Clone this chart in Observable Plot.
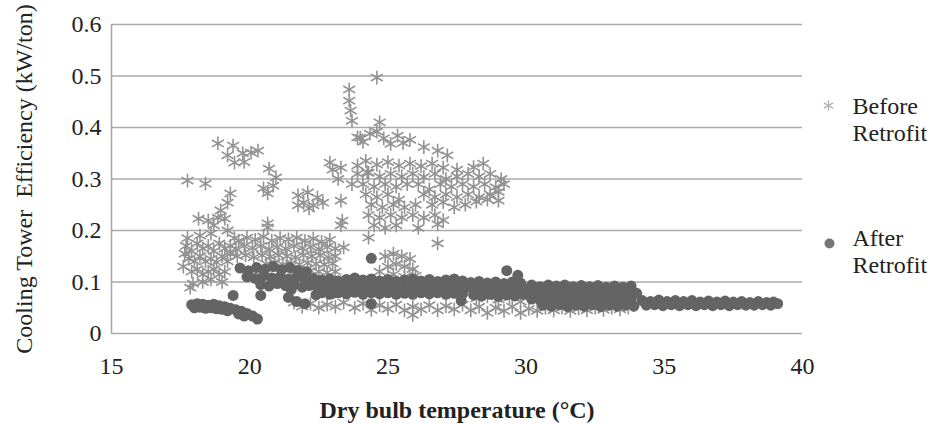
<!DOCTYPE html>
<html>
<head>
<meta charset="utf-8">
<script src="https://cdn.jsdelivr.net/npm/d3@7"></script>
<script src="https://cdn.jsdelivr.net/npm/@observablehq/plot@0.6"></script>
<style>
  html, body { margin: 0; padding: 0; background: #fff; }
</style>
</head>
<body>
<div id="chart"></div>
<script>
// ---- Tick values and labels ----
const xTicks = [15, 20, 25, 30, 35, 40];
const yTicks = [0, 0.1, 0.2, 0.3, 0.4, 0.5, 0.6];
const xTitle = "Dry bulb temperature (°C)";
const yTitle = "Cooling Tower\u00a0 Efficiency (kW/ton)";
const seriesNames = ["Before\nRetrofit", "After\nRetrofit"];

// ---- Before Retrofit: [dry bulb °C, kW/ton] ----
const beforeHigh = [
  [24.6,0.497],[23.6,0.474],[23.6,0.452],[23.65,0.433],[23.7,0.413],[24.7,0.410],[24.6,0.392],
  [18.85,0.369],[19.4,0.365],[19.2,0.346],[19.75,0.35],[20.05,0.351],[20.3,0.355],[19.45,0.332],[19.8,0.333],
  [23.9,0.381],[24.35,0.388],[24.85,0.379],[25.35,0.384],[25.8,0.376],[26.3,0.362],[26.8,0.355],[27.15,0.346],
  [24.1,0.372],[25.1,0.368],[25.55,0.37],[24.0,0.38]
];
const beforeUpper = [
  [20.7,0.32],[20.95,0.303],[20.85,0.287],[20.65,0.272],[20.5,0.282],
  [17.75,0.297],[18.4,0.291],
  [19.3,0.272],[19.2,0.254],[18.95,0.239],[18.85,0.225],[18.5,0.219],[18.15,0.223],[18.7,0.21],[19.1,0.223],
  [21.75,0.268],[22.1,0.274],[22.45,0.264],[21.95,0.254],[22.3,0.249],[22.65,0.254],[21.75,0.249],[22.15,0.243],
  [23.3,0.258],[23.35,0.219],[20.65,0.214],
  [22.9,0.332],[23.3,0.322],[23.9,0.326],[24.25,0.313],[23.0,0.318],[23.2,0.30],
  [24.2,0.335],[24.6,0.328],[25.0,0.333],[25.4,0.326],[25.8,0.33],[26.2,0.325],[26.6,0.33],[27.0,0.322],[27.5,0.318],[28.45,0.33],[28.1,0.323],
  [23.9,0.31],[24.3,0.312],[24.7,0.305],[25.1,0.31],[25.5,0.305],[25.9,0.31],[26.3,0.304],[26.7,0.31],[27.1,0.30],[27.5,0.305],[27.9,0.31],[28.3,0.305],[28.7,0.31],[29.1,0.30],
  [23.7,0.29],[24.1,0.29],[24.5,0.285],[24.9,0.29],[25.3,0.285],[25.7,0.29],[26.1,0.29],[26.5,0.28],[26.9,0.29],[27.3,0.285],[27.7,0.29],[28.1,0.285],[28.5,0.29],[28.9,0.284],[29.2,0.29],
  [26.3,0.27],[26.7,0.265],[27.1,0.27],[27.5,0.265],[27.9,0.27],[28.3,0.265],[28.7,0.27],[29.0,0.275],
  [26.6,0.25],[27.0,0.255],[27.4,0.245],[27.8,0.25],[28.2,0.256],[28.6,0.26],[29.0,0.258],
  [24.2,0.27],[24.6,0.265],[25.0,0.27],[25.4,0.26],[24.4,0.25],[24.8,0.245],[25.2,0.25],[25.6,0.245],[26.0,0.25],
  [24.3,0.23],[24.7,0.225],[25.1,0.23],[25.5,0.225],[25.9,0.23],[26.3,0.225],[26.7,0.23],[27.0,0.22],
  [24.5,0.21],[24.9,0.205],[25.3,0.21],[26.1,0.205],[26.8,0.212]
];
const beforeSparse = [
  [24.3,0.186],[26.8,0.175],[23.4,0.167],[23.3,0.21],[20.65,0.206],[18.6,0.194],[18.2,0.19],[19.2,0.2],[17.75,0.185]
];
const beforeLeft = [
  [17.7,0.17],[17.9,0.16],[18.1,0.175],[18.3,0.165],[18.5,0.17],[18.7,0.16],[18.9,0.175],[19.1,0.165],[19.3,0.17],
  [17.8,0.145],[18.0,0.14],[18.2,0.15],[18.4,0.14],[18.6,0.145],[18.8,0.138],[19.0,0.15],[19.2,0.14],
  [17.9,0.12],[18.1,0.125],[18.3,0.115],[18.5,0.12],[18.7,0.125],[18.9,0.115],[19.1,0.12],
  [17.95,0.097],[18.3,0.1],[18.6,0.105],[19.0,0.1],[17.85,0.089],[17.65,0.155],[17.6,0.13]
];
const beforeBlob = [
  [19.6,0.18],[19.9,0.186],[20.2,0.182],[20.5,0.188],[20.8,0.18],[21.1,0.185],[21.4,0.183],[21.7,0.186],[22.0,0.18],[22.3,0.184],[22.6,0.178],[22.9,0.182],
  [19.5,0.165],[19.8,0.17],[20.1,0.166],[20.4,0.17],[20.7,0.164],[21.0,0.168],[21.3,0.165],[21.6,0.17],[21.9,0.166],[22.2,0.168],[22.5,0.164],[22.8,0.168],[23.1,0.165],
  [19.55,0.15],[19.85,0.152],[20.15,0.148],[20.45,0.152],[20.75,0.149],[21.05,0.152],[21.35,0.15],[21.65,0.148],[21.95,0.152],[22.25,0.15],[22.55,0.152],[22.85,0.148],[23.1,0.15],
  [20.6,0.135],[20.9,0.138],[21.2,0.134],[21.5,0.136],[21.8,0.134],[22.1,0.137],[22.4,0.135],[22.7,0.134],[23.0,0.136],
  [21.6,0.12],[21.9,0.118],[22.2,0.122],[22.5,0.12],[22.8,0.118],[23.1,0.12],
  [19.3,0.155],[19.45,0.185],
  [24.9,0.15],[25.2,0.155],[25.5,0.15],[25.8,0.145],[25.0,0.13],[25.3,0.135],[25.6,0.13],[25.9,0.125],[25.2,0.115],[25.6,0.11],[24.7,0.12],[26.0,0.112]
];
const beforeLow = [
  [21.6,0.06],[21.9,0.052],[22.2,0.058],[22.5,0.05],[22.8,0.056],[23.1,0.052],[23.4,0.06],
  [23.8,0.05],[24.1,0.058],[24.4,0.046],[24.7,0.055],[25.0,0.048],[25.3,0.056],[25.6,0.045],[25.9,0.052],[26.2,0.047],
  [26.5,0.055],[26.8,0.045],[27.1,0.053],[27.4,0.047],[27.7,0.056],[28.0,0.045],[28.3,0.052],[28.6,0.04],[28.9,0.05],
  [29.2,0.044],[29.5,0.052],[29.8,0.04],[30.1,0.048],[30.4,0.044],[30.7,0.05],[31.0,0.045],[31.3,0.05],[31.6,0.044],
  [31.9,0.049],[32.2,0.045],[32.5,0.05],[32.8,0.046],[33.1,0.05],[33.4,0.047],[33.7,0.05],
  [25.9,0.036],[28.2,0.068],[28.6,0.072],[29.0,0.066],[29.4,0.07],[29.8,0.062]
];

// ---- After Retrofit: [dry bulb °C, kW/ton] ----
const afterLow = [
  [17.9,0.056],[18.1,0.058],[18.3,0.057],[18.5,0.055],[18.7,0.057],[18.9,0.054],[19.1,0.052],[19.3,0.049],[19.5,0.046],
  [19.7,0.043],[19.9,0.039],[20.1,0.034],[20.28,0.028],[18.0,0.05],[18.2,0.051],[18.4,0.049],[18.6,0.05],[18.8,0.048],
  [19.0,0.047],[19.2,0.044],[19.6,0.038],[19.8,0.034],[19.4,0.074],[20.4,0.074]
];
const afterBand = [
  [19.65,0.127],[19.95,0.122],[20.25,0.128],[20.55,0.125],[20.85,0.13],[21.15,0.124],[21.45,0.128],[21.75,0.122],[22.05,0.12],
  [19.9,0.11],[20.2,0.107],[20.5,0.112],[20.8,0.108],[21.1,0.11],[21.4,0.106],[21.7,0.11],[22.0,0.105],
  [20.4,0.095],[20.7,0.092],[21.0,0.097],[21.3,0.093],[21.6,0.095],[21.9,0.09],
  [21.4,0.07],[21.7,0.062],[22.0,0.058],[21.5,0.085],[22.4,0.075],[23.0,0.078],
  [22.3,0.107],[22.6,0.104],[22.9,0.106],[23.2,0.102],[23.5,0.105],[23.8,0.108],[24.1,0.104],[24.4,0.106],[24.7,0.102],
  [25.0,0.105],[25.3,0.101],[25.6,0.104],[25.9,0.106],[26.2,0.102],[26.5,0.105],[26.8,0.101],[27.1,0.104],[27.4,0.106],[27.7,0.102],
  [22.15,0.093],[22.45,0.09],[22.75,0.094],[23.05,0.089],[23.35,0.092],[23.65,0.09],[23.95,0.093],[24.25,0.089],[24.55,0.092],
  [24.85,0.089],[25.15,0.092],[25.45,0.089],[25.75,0.092],[26.05,0.089],[26.35,0.092],[26.65,0.089],[26.95,0.092],[27.25,0.089],[27.55,0.092],[27.85,0.09],
  [22.6,0.079],[22.9,0.076],[23.2,0.079],[23.5,0.077],[23.8,0.08],[24.1,0.076],[24.4,0.079],[24.7,0.077],[25.0,0.079],
  [25.3,0.076],[25.6,0.078],[25.9,0.076],[26.2,0.079],[26.5,0.077],[26.8,0.079],[27.1,0.076],[27.4,0.078],[27.7,0.077],
  [24.4,0.146],[27.65,0.064],[24.4,0.058],
  [28.0,0.099],[28.3,0.101],[28.6,0.098],[28.9,0.1],[29.2,0.097],[29.5,0.1],[29.8,0.098],
  [28.15,0.087],[28.45,0.085],[28.75,0.088],[29.05,0.085],[29.35,0.087],[29.65,0.084],[29.95,0.087],
  [28.1,0.075],[28.4,0.073],[28.7,0.076],[29.0,0.072],[29.3,0.075],[29.6,0.073],[29.9,0.076],
  [29.3,0.122],[29.7,0.113],
  [30.2,0.094],[30.5,0.091],[30.8,0.094],[31.1,0.092],[31.4,0.094],[31.7,0.091],[32.0,0.093],[32.3,0.091],[32.6,0.093],[32.9,0.09],[33.2,0.092],[33.5,0.09],[33.8,0.092],
  [30.1,0.08],[30.4,0.078],[30.7,0.081],[31.0,0.078],[31.3,0.08],[31.6,0.078],[31.9,0.081],[32.2,0.078],[32.5,0.08],[32.8,0.078],[33.1,0.081],[33.4,0.078],[33.7,0.08],[34.0,0.078],
  [30.2,0.067],[30.5,0.065],[30.8,0.068],[31.1,0.064],[31.4,0.067],[31.7,0.065],[32.0,0.068],[32.3,0.064],[32.6,0.067],[32.9,0.065],[33.2,0.068],[33.5,0.064],[33.8,0.066],
  [30.6,0.055],[30.9,0.053],[31.2,0.056],[31.5,0.052],[31.8,0.055],[32.1,0.053],[32.4,0.056],[32.7,0.052],[33.0,0.055],[33.3,0.053],[33.6,0.055],[33.9,0.053],
  [34.2,0.064],[34.5,0.062],[34.8,0.065],[35.1,0.062],[35.4,0.064],[35.7,0.062],[36.0,0.064],[36.3,0.061],[36.6,0.063],
  [36.9,0.061],[37.2,0.063],[37.5,0.061],[37.8,0.062],[38.1,0.06],[38.4,0.062],[38.7,0.06],[38.95,0.061],
  [34.35,0.055],[34.65,0.056],[34.95,0.054],[35.25,0.056],[35.55,0.054],[35.85,0.056],[36.15,0.054],[36.45,0.056],
  [36.75,0.054],[37.05,0.056],[37.35,0.054],[37.65,0.056],[37.95,0.055],[38.25,0.055],[38.55,0.056],[38.85,0.055],[39.1,0.058]
];

const toRows = arr => arr.map(([t, e]) => ({t, e}));
const before = toRows([...beforeHigh, ...beforeUpper, ...beforeSparse, ...beforeLeft, ...beforeBlob, ...beforeLow]);
const after = toRows([...afterLow, ...afterBand]);

const font = "'Liberation Serif', 'Times New Roman', serif";
const gridColor = "#aaaaaa";
const beforeColor = "#929292";
const afterColor = "#646464";

const chart = Plot.plot({
  width: 938,
  height: 425,
  marginLeft: 111,
  marginRight: 136,
  marginTop: 24,
  marginBottom: 92,
  style: {fontFamily: font, fontSize: "24px", color: "#222", background: "#fff", overflow: "visible"},
  x: {domain: [15, 40]},
  y: {domain: [0, 0.6]},
  marks: [
    Plot.ruleY(yTicks, {stroke: gridColor, strokeWidth: 1.6}),
    Plot.ruleX([15], {stroke: gridColor, strokeWidth: 1.6}),
    Plot.axisY({ticks: yTicks, tickSize: 0, tickPadding: 10, label: null, fontSize: 24,
      tickFormat: d => d === 0 ? "0" : d.toFixed(1)}),
    Plot.axisX({ticks: xTicks, tickSize: 0, tickPadding: 23, label: null, fontSize: 24,
      tickFormat: d => String(d)}),
    Plot.dot(before, {x: "t", y: "e", symbol: "asterisk", r: 6.5, stroke: beforeColor, strokeWidth: 1.6}),
    Plot.dot(after, {x: "t", y: "e", symbol: "circle", r: 5.5, fill: afterColor, stroke: "none"}),
    Plot.text([xTitle], {frameAnchor: "bottom", dy: 77, fontWeight: "bold", fontSize: 24, fill: "#222",
      textAnchor: "middle", lineAnchor: "middle"}),
    Plot.text([yTitle], {frameAnchor: "left", dx: -87, rotate: -90, fontSize: 24, fill: "#222",
      textAnchor: "middle", lineAnchor: "middle"}),
    // legend
    Plot.dot([0], {frameAnchor: "top-right", dx: 26, dy: 81, symbol: "asterisk", r: 5, stroke: "#b3b3b3", strokeWidth: 1.3}),
    Plot.text([seriesNames[0]], {frameAnchor: "top-right", dx: 50, dy: 94.5, textAnchor: "start", lineAnchor: "middle",
      lineHeight: 1.12, fontSize: 24, fill: "#222"}),
    Plot.dot([0], {frameAnchor: "top-right", dx: 27, dy: 219, symbol: "circle", r: 5, fill: "#777", stroke: "none"}),
    Plot.text([seriesNames[1]], {frameAnchor: "top-right", dx: 50, dy: 226, textAnchor: "start", lineAnchor: "middle",
      lineHeight: 1.12, fontSize: 24, fill: "#222"})
  ]
});
document.getElementById("chart").appendChild(chart);
</script>
</body>
</html>
